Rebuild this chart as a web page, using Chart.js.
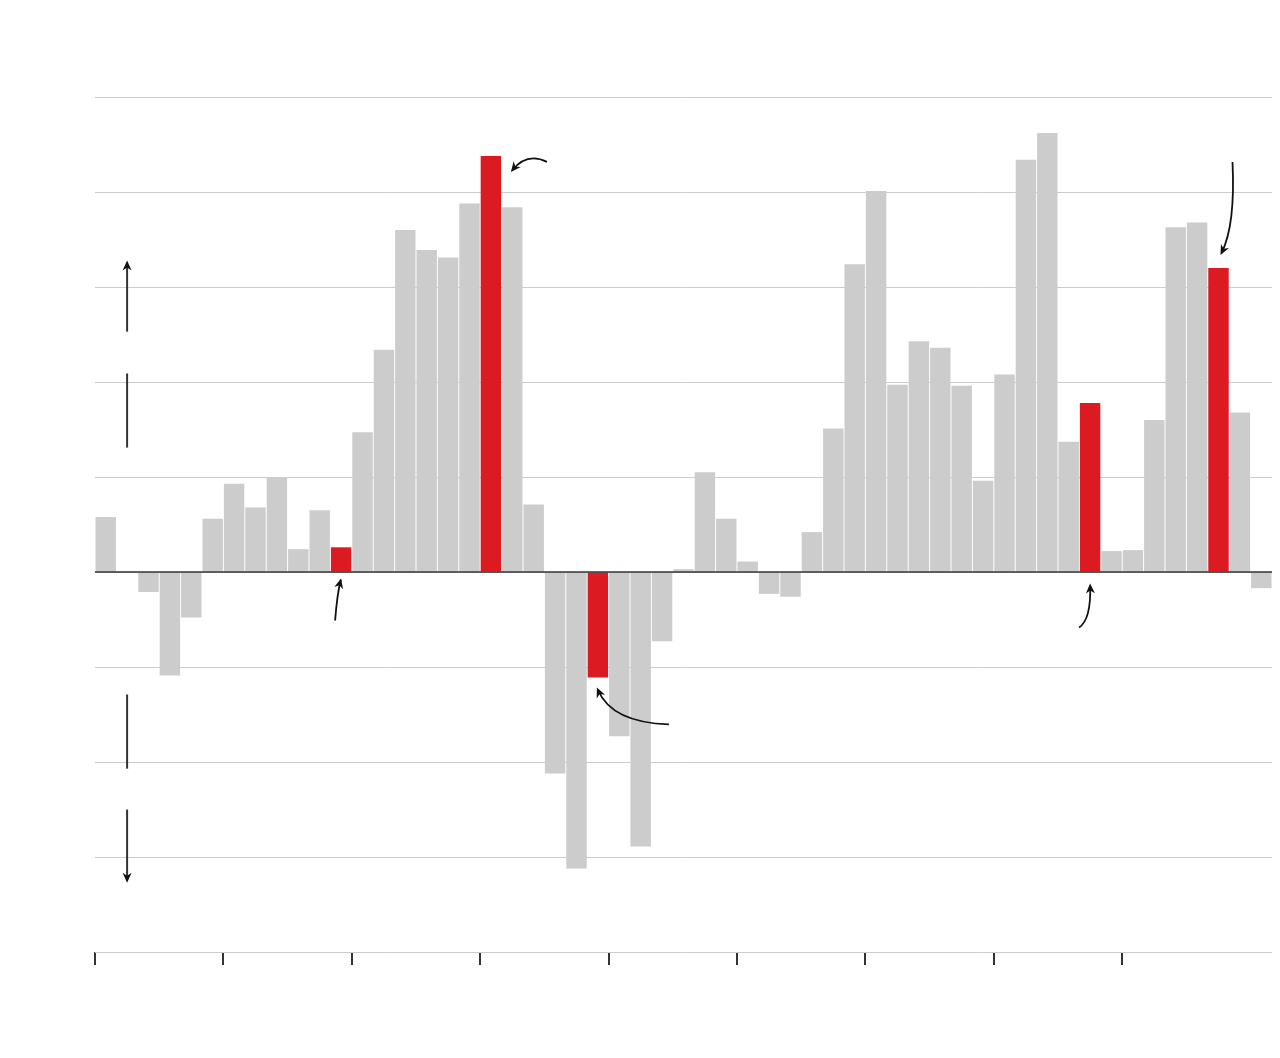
<!DOCTYPE html>
<html>
<head>
<meta charset="utf-8">
<script src="https://cdn.jsdelivr.net/npm/chart.js@4.4.1/dist/chart.umd.min.js"></script>
<style>
  html, body { margin: 0; padding: 0; background: #fff; }
  #wrap { width: 1280px; height: 1058px; }
</style>
</head>
<body>
<div id="wrap"><canvas id="chart" width="1280" height="1058"></canvas></div>
<script>
// one value per bar
var periods = [];
for (var p = 1; p <= 55; p++) periods.push(String(p));

var values = [
  0.58, 0, -0.21, -1.09, -0.48, 0.56, 0.93, 0.68, 0.99, 0.24,
  0.65, 0.26, 1.47, 2.34, 3.60, 3.39, 3.31, 3.88, 4.38, 3.84,
  0.71, -2.12, -3.12, -1.11, -1.73, -2.89, -0.73, 0.03, 1.05, 0.56,
  0.11, -0.23, -0.26, 0.42, 1.51, 3.24, 4.01, 1.97, 2.43, 2.36,
  1.96, 0.96, 2.08, 4.34, 4.62, 1.37, 1.78, 0.22, 0.23, 1.60,
  3.63, 3.68, 3.20, 1.68, -0.17
];
var highlighted = [11, 18, 23, 46, 52];

var yMin = -4, yMax = 5;
var gray = '#cccccc', red = '#db1a22';

var barColors = values.map(function (v, i) {
  return highlighted.indexOf(i) >= 0 ? red : gray;
});

// small curved pointers next to the red bars: [bar, anchor, end dx/dy, ctrl dx/dy, start dx/dy]
var pointers = [
  [11, 'base', [0, 7],  [-4, 23], [-6, 49]],
  [18, 'top',  [20, 16], [36, -4], [56, 6]],
  [23, 'top',  [-1, 10], [14, 45], [71, 47]],
  [46, 'base', [0, 12], [1, 48],  [-11, 56]],
  [52, 'top',  [2, -13], [17, -43], [14, -106]]
];

function arrowHead(ctx, x, y, fromX, fromY, len, w) {
  var a = Math.atan2(y - fromY, x - fromX);
  ctx.beginPath();
  ctx.moveTo(x, y);
  ctx.lineTo(x - len * Math.cos(a) + w * Math.sin(a), y - len * Math.sin(a) - w * Math.cos(a));
  ctx.lineTo(x - len * Math.cos(a) * 0.7, y - len * Math.sin(a) * 0.7);
  ctx.lineTo(x - len * Math.cos(a) - w * Math.sin(a), y - len * Math.sin(a) + w * Math.cos(a));
  ctx.closePath();
  ctx.fill();
}

var extras = {
  id: 'extras',
  afterDatasetsDraw: function (chart) {
    var ctx = chart.ctx, area = chart.chartArea, ys = chart.scales.y;
    var meta = chart.getDatasetMeta(0);
    ctx.save();
    // zero line on top of the bars
    ctx.strokeStyle = '#333';
    ctx.lineWidth = 1.5;
    ctx.beginPath();
    ctx.moveTo(area.left, ys.getPixelForValue(0));
    ctx.lineTo(area.right, ys.getPixelForValue(0));
    ctx.stroke();

    // pointers
    ctx.strokeStyle = '#111';
    ctx.fillStyle = '#111';
    ctx.lineWidth = 1.8;
    pointers.forEach(function (p) {
      var bar = meta.data[p[0]];
      var ax = bar.x, ay = p[1] === 'base' ? bar.base : bar.y;
      var ex = ax + p[2][0], ey = ay + p[2][1];
      var cx = ax + p[3][0], cy = ay + p[3][1];
      var sx = ax + p[4][0], sy = ay + p[4][1];
      ctx.beginPath();
      ctx.moveTo(sx, sy);
      ctx.quadraticCurveTo(cx, cy, ex + (cx - ex) * 0.08, ey + (cy - ey) * 0.08);
      ctx.stroke();
      arrowHead(ctx, ex, ey, cx, cy, 10, 4.5);
    });

    // up / down markers on the left
    var lx = area.left + (area.right - area.left) * (1.5 / values.length);
    ctx.strokeStyle = '#333';
    ctx.fillStyle = '#111';
    ctx.lineWidth = 2;
    var segs = [[2.53, 3.28, true], [1.31, 2.09, false], [-2.07, -1.29, false], [-2.5, -3.27, true]];
    segs.forEach(function (s) {
      var y0 = ys.getPixelForValue(s[0]), y1 = ys.getPixelForValue(s[1]);
      ctx.beginPath();
      ctx.moveTo(lx, y0);
      ctx.lineTo(lx, s[2] ? y1 + (y1 > y0 ? -4 : 4) : y1);
      ctx.stroke();
      if (s[2]) arrowHead(ctx, lx, y1, lx, y0, 10, 4.5);
    });
    ctx.restore();
  }
};

var ctx1 = document.getElementById('chart');

var chart1 = new Chart(ctx1, {
  type: 'bar',
  data: {
    labels: periods,
    datasets: [{
      data: values,
      backgroundColor: barColors,
      borderWidth: 0,
      barPercentage: 0.955,
      categoryPercentage: 1
    }]
  },
  options: {
    responsive: false,
    animation: false,
    layout: { padding: { left: 95, right: 8, top: 97, bottom: 93 } },
    plugins: { legend: { display: false }, tooltip: { enabled: false } },
    scales: {
      x: {
        ticks: { display: false },
        border: { display: false },
        grid: {
          offset: true,
          drawOnChartArea: false,
          drawTicks: true,
          tickLength: 13,
          lineWidth: 2,
          color: function (c) {
            return (c.index % 6 === 0 && c.index < 54) ? '#333' : 'rgba(0,0,0,0)';
          }
        }
      },
      y: {
        min: yMin,
        max: yMax,
        ticks: { display: false, stepSize: 1 },
        border: { display: false },
        grid: {
          drawTicks: false,
          color: '#cccccc',
          lineWidth: 1
        }
      }
    }
  },
  plugins: [extras]
});
</script>
</body>
</html>
